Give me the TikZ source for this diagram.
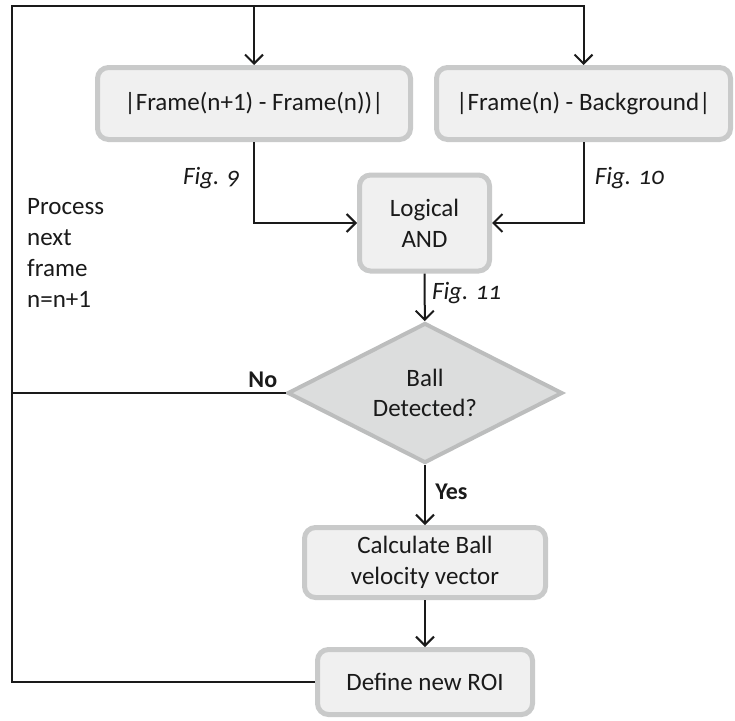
\documentclass[tikz,border=0pt]{standalone}
\usepackage{fontspec}
\setmainfont{Carlito}
\newfontfamily\figfont{Carlito}[Numbers=OldStyle]
\usepackage{tikz}
\usetikzlibrary{arrows.meta,shapes.geometric}
\definecolor{ink}{HTML}{1A1A1A}
\definecolor{boxfill}{HTML}{F0F0F0}
\definecolor{boxline}{HTML}{C9CACA}
\definecolor{decfill}{HTML}{DCDDDD}
\definecolor{decline}{HTML}{BCBDBD}
\tikzset{
  >={Straight Barb[length=9pt,width=18pt,line width=2pt]},
  box/.style={draw=boxline,fill=boxfill,line width=5pt,rounded corners=11pt,align=center,
    text=ink,inner sep=2pt,font=\fontsize{25}{31}\selectfont},
  dec/.style={diamond,aspect=1.9,draw=decline,fill=decfill,line width=4pt,align=center,
    text=ink,inner sep=0pt,font=\fontsize{25}{30}\selectfont},
  lab/.style={font=\fontsize{25}{30}\selectfont\figfont\itshape,text=ink},
  yn/.style={font=\fontsize{24}{30}\selectfont\bfseries,text=ink},
  arr/.style={->,draw=ink,line width=2pt},
  wire/.style={draw=ink,line width=2pt},
}
\begin{document}
\begin{tikzpicture}[x=1pt,y=-1pt]
\useasboundingbox (0,0) rectangle (735,720);
% blocks
\node[box,minimum width=313,minimum height=72] (diff) at (254,103.5) {|Frame(n+1) - Frame(n))|};
\node[box,minimum width=294,minimum height=72] (bg) at (583.5,103.5) {|Frame(n) - Background|};
\node[box,minimum width=130,minimum height=96] (and) at (424.5,223) {Logical\\AND};
\node[dec,minimum width=275,minimum height=140] (det) at (425,393) {Ball\\Detected?};
\node[box,minimum width=241,minimum height=70] (vel) at (425,562.5) {Calculate Ball\\velocity vector};
\node[box,minimum width=215,minimum height=65] (roi) at (425,682) {Define new ROI};
\node[anchor=north west,align=left,text=ink,inner sep=0pt,font=\fontsize{25}{31}\selectfont] (next) at (27,198) {Process\\next\\frame\\n=n+1};
% flow
\coordinate (lt) at (12,6);
\draw[arr] (lt -| diff.north) -- (diff.north);
\draw[arr] (diff.south) |- node[lab,pos=0.22,left=10pt]{Fig. 9} (and.west);
\draw[arr] (bg.south) |- node[lab,pos=0.22,right=7pt]{Fig. 10} (and.east);
\draw[arr] (and) -- node[lab,pos=0.42,right=3pt]{Fig. 11} (det);
\draw[arr] (det) -- node[yn,pos=0.45,right=6pt]{Yes} (vel);
\draw[arr] (vel) -- (roi);
\draw[wire] (det.west) node[yn,anchor=south east,xshift=-4pt,yshift=1pt]{No} -- (det.west -| lt);
% loop back
\draw[arr] (roi.west) -| (lt) -| (bg.north);
\end{tikzpicture}
\end{document}
